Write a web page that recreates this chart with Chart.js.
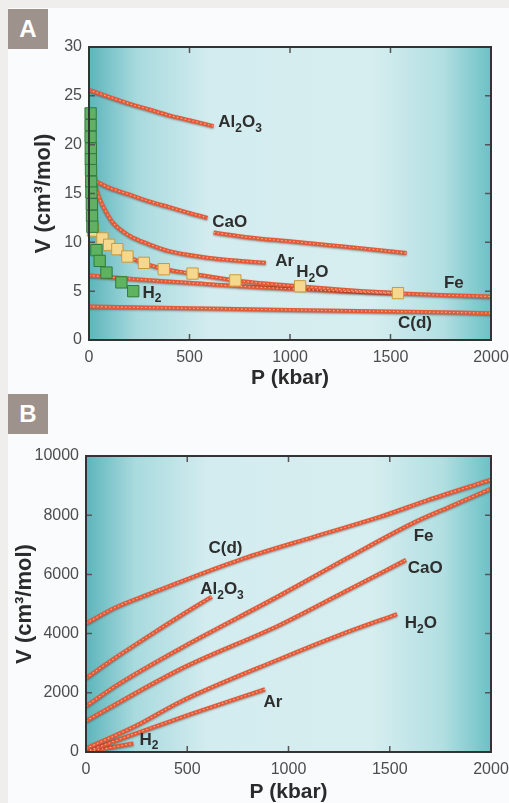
<!DOCTYPE html>
<html>
<head>
<meta charset="utf-8">
<script src="https://cdn.jsdelivr.net/npm/chart.js@4.4.0/dist/chart.umd.min.js"></script>
<style>
html, body { margin: 0; padding: 0; width: 509px; height: 803px; overflow: hidden; background: #efeeec; }
#panel { position: absolute; left: 8px; top: 8px; width: 501px; height: 795px; background: #fafbfd; }
.tag { position: absolute; left: 8px; width: 40px; height: 40px; background: #9e928d; color: #fff;
       font: bold 24px "Liberation Sans", Arial, sans-serif; text-align: center; line-height: 40px; }
canvas { position: absolute; left: 0; }
</style>
</head>
<body>
<div id="panel"></div>
<div class="tag" style="top:9px">A</div>
<div class="tag" style="top:394px">B</div>
<canvas id="chartA" width="509" height="392" style="top:0"></canvas>
<canvas id="chartB" width="509" height="408" style="top:395px"></canvas>
<script>
var fontFamily = '"Liberation Sans", Arial, Helvetica, sans-serif';

// ---- Panel A : V (cm3/mol) vs P (kbar) ----
var pA_Al2O3 = [0, 100, 200, 300, 400, 500, 620];
var vA_Al2O3 = [25.6, 24.9, 24.2, 23.6, 23.0, 22.5, 21.9];

var pA_CaO = [20, 100, 200, 300, 400, 500, 590, 605, 620, 800, 1000, 1200, 1400, 1580];
var vA_CaO = [16.4, 15.6, 14.9, 14.2, 13.6, 13.0, 12.5, null, 11.0, 10.5, 10.1, 9.7, 9.3, 8.9];

var pA_Ar = [30, 50, 80, 120, 200, 300, 400, 500, 600, 700, 880];
var vA_Ar = [15.9, 14.6, 13.3, 12.0, 10.7, 9.8, 9.1, 8.7, 8.4, 8.2, 7.9];

var pA_H2O = [30, 70, 100, 140, 190, 270, 370, 510, 730, 1050, 1300, 1550];
var vA_H2O = [11.1, 10.4, 9.8, 9.3, 8.6, 7.9, 7.3, 6.8, 6.1, 5.5, 5.1, 4.8];

var pA_Fe = [0, 250, 500, 750, 1000, 1250, 1500, 1750, 2000];
var vA_Fe = [6.6, 6.2, 5.85, 5.5, 5.25, 5.0, 4.8, 4.6, 4.45];

var pA_Cd = [0, 500, 1000, 1500, 2000];
var vA_Cd = [3.42, 3.25, 3.08, 2.92, 2.75];

// measured points (squares)
var pA_H2Osq = [20, 67, 100, 141, 191, 273, 372, 515, 728, 1050, 1537];
var vA_H2Osq = [11.2, 10.4, 9.75, 9.3, 8.55, 7.9, 7.25, 6.8, 6.1, 5.5, 4.8];
var pA_H2sq = [8, 8, 8, 9, 9, 10, 11, 12, 14, 15, 17, 37, 53, 87, 161, 220];
var vA_H2sq = [23.2, 22.0, 20.8, 19.6, 18.5, 17.4, 16.2, 15.1, 13.9, 12.7, 11.6, 9.2, 8.1, 6.9, 5.9, 5.0];

var labelTextA = ['Al2O3', 'CaO', 'Ar', 'H2O', 'Fe', 'C(d)', 'H2'];
var labelPA = [643, 613, 926, 1031, 1766, 1537, 266];
var labelVA = [22.3, 12.1, 8.1, 6.9, 5.8, 1.7, 4.8];

// ---- Panel B ----
var pB_Cd = [0, 150, 316, 465, 778, 1124, 1453, 1684, 2000];
var vB_Cd = [4350, 4900, 5350, 5750, 6540, 7270, 7950, 8500, 9200];

var pB_Al2O3 = [0, 152, 316, 470, 621];
var vB_Al2O3 = [2500, 3220, 3950, 4620, 5250];

var pB_Fe = [0, 150, 465, 959, 1289, 1618, 1800, 2000];
var vB_Fe = [1550, 2250, 3500, 5300, 6550, 7750, 8300, 8900];

var pB_CaO = [0, 465, 959, 1250, 1580];
var vB_CaO = [1050, 2800, 4300, 5320, 6490];

var pB_H2O = [0, 250, 465, 959, 1250, 1536];
var vB_H2O = [120, 900, 1700, 3150, 3950, 4660];

var pB_Ar = [0, 250, 530, 884];
var vB_Ar = [20, 640, 1310, 2120];

var pB_H2 = [0, 120, 234];
var vB_H2 = [10, 150, 290];

var labelTextB = ['C(d)', 'Al2O3', 'Fe', 'CaO', 'H2O', 'Ar', 'H2'];
var labelPB = [605, 564, 1618, 1589, 1574, 877, 264];
var labelVB = [6880, 5500, 7270, 6200, 4350, 1680, 400];

var ticksX = [0, 500, 1000, 1500, 2000];

function pts(ps, vs) {
    return ps.map(function (p, i) { return { x: p, y: vs[i] }; });
}

// a red "rope" line: thick base plus a light dashed strand on top
function rope(ps, vs) {
    var d = pts(ps, vs);
    return [
        { data: d, borderColor: '#e35a38', borderWidth: 4, shadow: true, order: 3 },
        { data: d, borderColor: 'rgba(255,190,160,0.85)', borderWidth: 1.1, borderDash: [1.5, 2.5], order: 2 }
    ];
}

function squares(ps, vs, fill, edge, order) {
    return {
        data: pts(ps, vs), showLine: false, pointStyle: 'rect', pointRadius: 8,
        pointBackgroundColor: fill, pointBorderColor: edge, pointBorderWidth: 1,
        clip: false, order: order
    };
}

function drawFormula(ctx, text, x, y) {
    var cx = x;
    for (var i = 0; i < text.length; i++) {
        var ch = text[i];
        var sub = /[0-9]/.test(ch);
        ctx.font = 'bold ' + (sub ? 12 : 17) + 'px ' + fontFamily;
        ctx.fillText(ch, cx, sub ? y + 6 : y);
        cx += ctx.measureText(ch).width;
    }
}

var panelPlugin = {
    id: 'panel',
    beforeDatasetsDraw: function (chart) {
        var a = chart.chartArea, ctx = chart.ctx;
        var g = ctx.createLinearGradient(a.left, 0, a.right, 0);
        g.addColorStop(0, '#5db5bb');
        g.addColorStop(0.12, '#a8dade');
        g.addColorStop(0.3, '#d3ecef');
        g.addColorStop(0.7, '#d7eef0');
        g.addColorStop(0.88, '#b2dfe2');
        g.addColorStop(1, '#6cc1c5');
        ctx.save();
        ctx.fillStyle = g;
        ctx.fillRect(a.left, a.top, a.right - a.left, a.bottom - a.top);
        ctx.restore();
    },
    beforeDatasetDraw: function (chart, args) {
        if (chart.data.datasets[args.index].shadow) {
            var ctx = chart.ctx;
            ctx.save();
            ctx.shadowColor = 'rgba(60,20,10,0.45)';
            ctx.shadowBlur = 2;
            ctx.shadowOffsetY = 1;
        }
    },
    afterDatasetDraw: function (chart, args) {
        if (chart.data.datasets[args.index].shadow) chart.ctx.restore();
    },
    afterDraw: function (chart) {
        var a = chart.chartArea, ctx = chart.ctx;
        var sx = chart.scales.x, sy = chart.scales.y;
        ctx.save();
        // inward tick marks on all sides
        ctx.strokeStyle = '#555';
        ctx.lineWidth = 1.5;
        ctx.beginPath();
        sx.ticks.forEach(function (t) {
            var px = sx.getPixelForValue(t.value);
            ctx.moveTo(px, a.bottom); ctx.lineTo(px, a.bottom - 6);
            ctx.moveTo(px, a.top); ctx.lineTo(px, a.top + 6);
        });
        sy.ticks.forEach(function (t) {
            var py = sy.getPixelForValue(t.value);
            ctx.moveTo(a.left, py); ctx.lineTo(a.left + 6, py);
            ctx.moveTo(a.right, py); ctx.lineTo(a.right - 6, py);
        });
        ctx.stroke();
        // frame
        ctx.strokeStyle = '#333';
        ctx.lineWidth = 2;
        ctx.strokeRect(a.left, a.top, a.right - a.left, a.bottom - a.top);
        // curve labels
        var o = chart.options.plugins.panel;
        ctx.fillStyle = '#2e2e2e';
        ctx.textBaseline = 'middle';
        ctx.textAlign = 'left';
        o.texts.forEach(function (t, i) {
            drawFormula(ctx, t, sx.getPixelForValue(o.ps[i]), sy.getPixelForValue(o.vs[i]));
        });
        ctx.restore();
    }
};

function plain(v) { return String(v); }

function makeChart(id, datasets, yMax, yStep, yWidth, yTitlePad, xHeight, xTitlePad, topPad, texts, ps, vs) {
    return new Chart(document.getElementById(id), {
        type: 'line',
        data: { datasets: datasets },
        options: {
            responsive: false,
            animation: false,
            layout: { padding: { left: 0, right: 18, top: topPad, bottom: 0 } },
            elements: {
                point: { radius: 0 },
                line: { fill: false, cubicInterpolationMode: 'monotone' }
            },
            plugins: {
                legend: { display: false },
                tooltip: { enabled: false },
                panel: { texts: texts, ps: ps, vs: vs }
            },
            scales: {
                x: {
                    type: 'linear', min: 0, max: 2000,
                    afterBuildTicks: function (s) { s.ticks = ticksX.map(function (v) { return { value: v }; }); },
                    afterFit: function (s) { s.height = xHeight; s.paddingLeft = 0; s.paddingRight = 0; },
                    grid: { display: false, drawTicks: false },
                    border: { display: false },
                    ticks: { color: '#4d4d4d', font: { family: fontFamily, size: 16 }, padding: 8, maxRotation: 0, callback: plain },
                    title: { display: true, text: 'P (kbar)', color: '#2b2b2b',
                             font: { family: fontFamily, size: 21, weight: 'bold', lineHeight: 1 },
                             padding: { top: 0, bottom: xTitlePad } }
                },
                y: {
                    type: 'linear', min: 0, max: yMax,
                    ticks: { stepSize: yStep, color: '#4d4d4d', font: { family: fontFamily, size: 16 }, padding: 7, callback: plain },
                    afterFit: function (s) { s.width = yWidth; s.paddingTop = 0; s.paddingBottom = 0; },
                    grid: { display: false, drawTicks: false },
                    border: { display: false },
                    title: { display: true, text: 'V (cm\u00b3/mol)', color: '#2b2b2b',
                             font: { family: fontFamily, size: 22, weight: 'bold', lineHeight: 1 },
                             padding: { top: yTitlePad, bottom: 0 } }
                }
            }
        },
        plugins: [panelPlugin]
    });
}

var setsA = [].concat(
    rope(pA_Al2O3, vA_Al2O3), rope(pA_CaO, vA_CaO), rope(pA_Ar, vA_Ar),
    rope(pA_H2O, vA_H2O), rope(pA_Fe, vA_Fe), rope(pA_Cd, vA_Cd),
    [squares(pA_H2Osq, vA_H2Osq, '#f6d78e', '#c89a3c', 1),
     squares(pA_H2sq, vA_H2sq, '#5fb25f', '#2f7a3a', 0)]
);

var setsB = [].concat(
    rope(pB_Cd, vB_Cd), rope(pB_Al2O3, vB_Al2O3), rope(pB_Fe, vB_Fe),
    rope(pB_CaO, vB_CaO), rope(pB_H2O, vB_H2O), rope(pB_Ar, vB_Ar), rope(pB_H2, vB_H2)
);

makeChart('chartA', setsA, 30, 5, 89, 33, 52, 3.5, 47, labelTextA, labelPA, labelVA);
makeChart('chartB', setsB, 10000, 2000, 86, 14, 51, 0.5, 61, labelTextB, labelPB, labelVB);
</script>
</body>
</html>
